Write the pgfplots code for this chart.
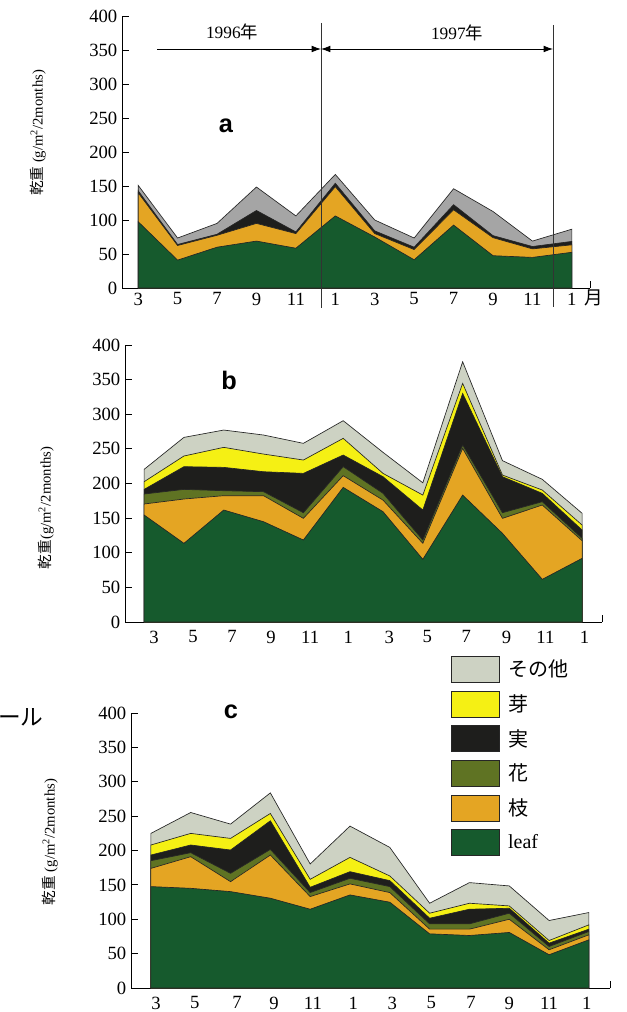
\documentclass[border=0pt]{standalone}
\usepackage{pgfplots}
\pgfplotsset{compat=1.18}
\usepackage{fontspec}
\setmainfont{Liberation Serif}
\newfontfamily\jp{Noto Sans CJK JP}
\newfontfamily\arial{Liberation Sans}
\usetikzlibrary{arrows.meta}

\definecolor{cleaf}{RGB}{22,90,45}
\definecolor{ceda}{RGB}{228,165,35}
\definecolor{chana}{RGB}{95,115,35}
\definecolor{cmi}{RGB}{30,30,28}
\definecolor{cme}{RGB}{245,240,20}
\definecolor{csono}{RGB}{205,210,195}
\definecolor{cgray}{RGB}{165,165,165}

\pgfplotsset{
  panel/.style={
    scale only axis, axis lines=left, axis line style={-, line width=0.6pt},
    ymin=0, ymax=400, ytick={0,50,...,400},
    tick align=inside, major tick length=5pt,
    xtick style={draw=none},
    ytick style={line width=0.6pt, black},
    tick label style={font=\fontsize{14}{14}\selectfont},
    /pgf/number format/assume math mode=true,
    clip=false, anchor=south west,
    xticklabels={3,5,7,9,11,1,3,5,7,9,11,1},
  },
  lay/.style={draw=black!85, line width=0.5pt, fill=#1},
}

\begin{document}
\begin{tikzpicture}
\path[use as bounding box] (0,0) rectangle (470.25pt,-759pt);

% ---------- panel a ----------
\begin{axis}[panel, at={(91.5pt,-216pt)}, width=351pt, height=204pt,
  xmin=-0.41, xmax=11.46, xtick={0,...,11}]
\addplot[lay=cgray] coordinates {(0,151) (1,73.5) (2,95) (3,148.5) (4,106) (5,167) (6,100) (7,73.5) (8,146) (9,112.5) (10,69) (11,86.5)} \closedcycle;
\addplot[lay=cmi] coordinates {(0,143) (1,64) (2,79) (3,114) (4,82.5) (5,154) (6,84) (7,60) (8,122.5) (9,77) (10,61) (11,68.5)} \closedcycle;
\addplot[lay=ceda] coordinates {(0,140) (1,62.5) (2,77.5) (3,95) (4,80) (5,149) (6,80) (7,56.5) (8,115) (9,74) (10,57.5) (11,63.5)} \closedcycle;
\addplot[lay=cleaf] coordinates {(0,97.5) (1,41) (2,60) (3,69) (4,58.5) (5,106) (6,75) (7,41.5) (8,92.5) (9,47.5) (10,45) (11,52.5)} \closedcycle;
\draw[line width=0.6pt] (rel axis cs:1,0) -- ++(0pt,5pt);
\end{axis}

% ---------- panel b ----------
\begin{axis}[panel, at={(93.75pt,-466.5pt)}, width=357.75pt, height=207.75pt,
  xmin=-0.48, xmax=11.5,
  xtick={0.25,1.23,2.21,3.19,4.17,5.13,6.16,7.11,8.09,9.10,10.08,11.06},
  xticklabel style={yshift=-3pt}]
\addplot[lay=csono] coordinates {(0,220.4) (1,266.6) (2,277.2) (3,270) (4,258) (5,290.7) (6,245) (7,201) (8,375.8) (9,233) (10,206) (11,157)} \closedcycle;
\addplot[lay=cme] coordinates {(0,202.6) (1,239.7) (2,252.2) (3,242.5) (4,233.9) (5,265.2) (6,214.6) (7,183.3) (8,344.6) (9,212.2) (10,190.6) (11,140)} \closedcycle;
\addplot[lay=cmi] coordinates {(0,191.5) (1,224.3) (2,223.3) (3,217) (4,214.6) (5,241.1) (6,209.8) (7,161.7) (8,330) (9,209.8) (10,185.8) (11,132.8)} \closedcycle;
\addplot[lay=chana] coordinates {(0,184.8) (1,191.5) (2,189.6) (3,188.2) (4,157.8) (5,224.3) (6,185.8) (7,118.4) (8,255.5) (9,157.8) (10,173.7) (11,120.8)} \closedcycle;
\addplot[lay=ceda] coordinates {(0,170.4) (1,177.6) (2,182.4) (3,182.4) (4,149.7) (5,211.3) (6,176) (7,113.6) (8,250.7) (9,149.7) (10,168.9) (11,117.4)} \closedcycle;
\addplot[lay=cleaf] coordinates {(0,154.5) (1,113.6) (2,161.7) (3,144.8) (4,118.4) (5,194.4) (6,159.3) (7,90.5) (8,183.3) (9,128) (10,61.6) (11,91.9)} \closedcycle;
\draw[line width=0.6pt] (rel axis cs:1,0) -- ++(0pt,5pt);
\end{axis}

% ---------- panel c ----------
\begin{axis}[panel, at={(98.25pt,-741pt)}, width=359.25pt, height=206.25pt,
  xmin=-0.5, xmax=11.53,
  xtick={0.13,1.1,2.16,3.09,4.07,5.08,6.06,7.04,8.04,9.0,10.0,10.95},
  xticklabel style={yshift=-3pt},
  legend style={at={(0.66,1.218)}, anchor=north west, draw=none, fill=none,
    row sep=6pt, font=\fontsize{15}{15}\selectfont,
    nodes={inner sep=0pt},
    /tikz/every odd column/.append style={column sep=6pt}},
  legend cell align=left,
  legend image code/.code={\draw[#1] (0pt,-9.75pt) rectangle (36pt,9.75pt);}]
\addplot[lay=csono] coordinates {(0,224.9) (1,255.3) (2,238.4) (3,283.8) (4,180.4) (5,235.5) (6,204.5) (7,123.3) (8,153.3) (9,148.5) (10,98.2) (11,109.8)} \closedcycle;
\addlegendentry{{\jp その他}}
\addplot[lay=cme] coordinates {(0,208) (1,224.9) (2,217.6) (3,253.9) (4,158.1) (5,190) (6,163) (7,108.8) (8,123.3) (9,119.4) (10,69.1) (11,91.9)} \closedcycle;
\addlegendentry{{\jp 芽}}
\addplot[lay=cmi] coordinates {(0,193.4) (1,208) (2,200.7) (3,243.2) (4,146.5) (5,169.2) (6,156.2) (7,101.5) (8,114.6) (9,116) (10,65.3) (11,85.6)} \closedcycle;
\addlegendentry{{\jp 実}}
\addplot[lay=chana] coordinates {(0,185.2) (1,196.8) (2,166.8) (3,201.6) (4,138.8) (5,159.6) (6,147.5) (7,93.3) (8,93.3) (9,108.8) (10,60.4) (11,82.2)} \closedcycle;
\addlegendentry{{\jp 花}}
\addplot[lay=ceda] coordinates {(0,174) (1,191) (2,154.7) (3,193.4) (4,133) (5,151.4) (6,138.8) (7,85.6) (8,85.6) (9,100) (10,55.6) (11,77.4)} \closedcycle;
\addlegendentry{{\jp 枝}}
\addplot[lay=cleaf] coordinates {(0,147.5) (1,145) (2,140.2) (3,130.6) (4,114.6) (5,135.4) (6,124.8) (7,78.8) (8,76.4) (9,80.8) (10,48.4) (11,70.1)} \closedcycle;
\addlegendentry{leaf}
\draw[line width=0.6pt] (rel axis cs:1,0) -- ++(0pt,5pt);
\end{axis}

% ---------- annotations (pixel coordinates) ----------
\begin{scope}[x=0.75pt,y=-0.75pt]
\draw[line width=0.5pt, black!80] (321,23) -- (321,308);
\draw[line width=0.5pt, black!80] (553,25) -- (553,307);
\draw[line width=0.6pt, -{Latex[length=7pt,width=5pt]}] (157,49) -- (321,49);
\draw[line width=0.6pt, {Latex[length=7pt,width=5pt]}-{Latex[length=7pt,width=5pt]}] (321,49) -- (553,49);
\node[font=\fontsize{13}{13}\selectfont] at (232,32) {1996{\jp 年}};
\node[font=\fontsize{13}{13}\selectfont] at (457,33) {1997{\jp 年}};
\node[font=\fontsize{14}{14}\selectfont\jp] at (594,298) {月};
\node[font=\fontsize{19}{19}\selectfont\arial\bfseries] at (226,126) {a};
\node[font=\fontsize{19}{19}\selectfont\arial\bfseries] at (229,380) {b};
\node[font=\fontsize{19}{19}\selectfont\arial\bfseries] at (231,712) {c};
\node[rotate=90, font=\fontsize{11}{11}\selectfont] at (38,133) {{\jp 乾重} (g/m\textsuperscript{2}/2months)};
\node[rotate=90, font=\fontsize{11}{11}\selectfont] at (46,508) {{\jp 乾重}(g/m\textsuperscript{2}/2months)};
\node[rotate=90, font=\fontsize{11}{11}\selectfont] at (50,842) {{\jp 乾重} (g/m\textsuperscript{2}/2months)};
\node[anchor=west, font=\fontsize{17}{17}\selectfont\jp, inner sep=0pt] at (-2,717) {ール};
\end{scope}
\end{tikzpicture}
\end{document}
